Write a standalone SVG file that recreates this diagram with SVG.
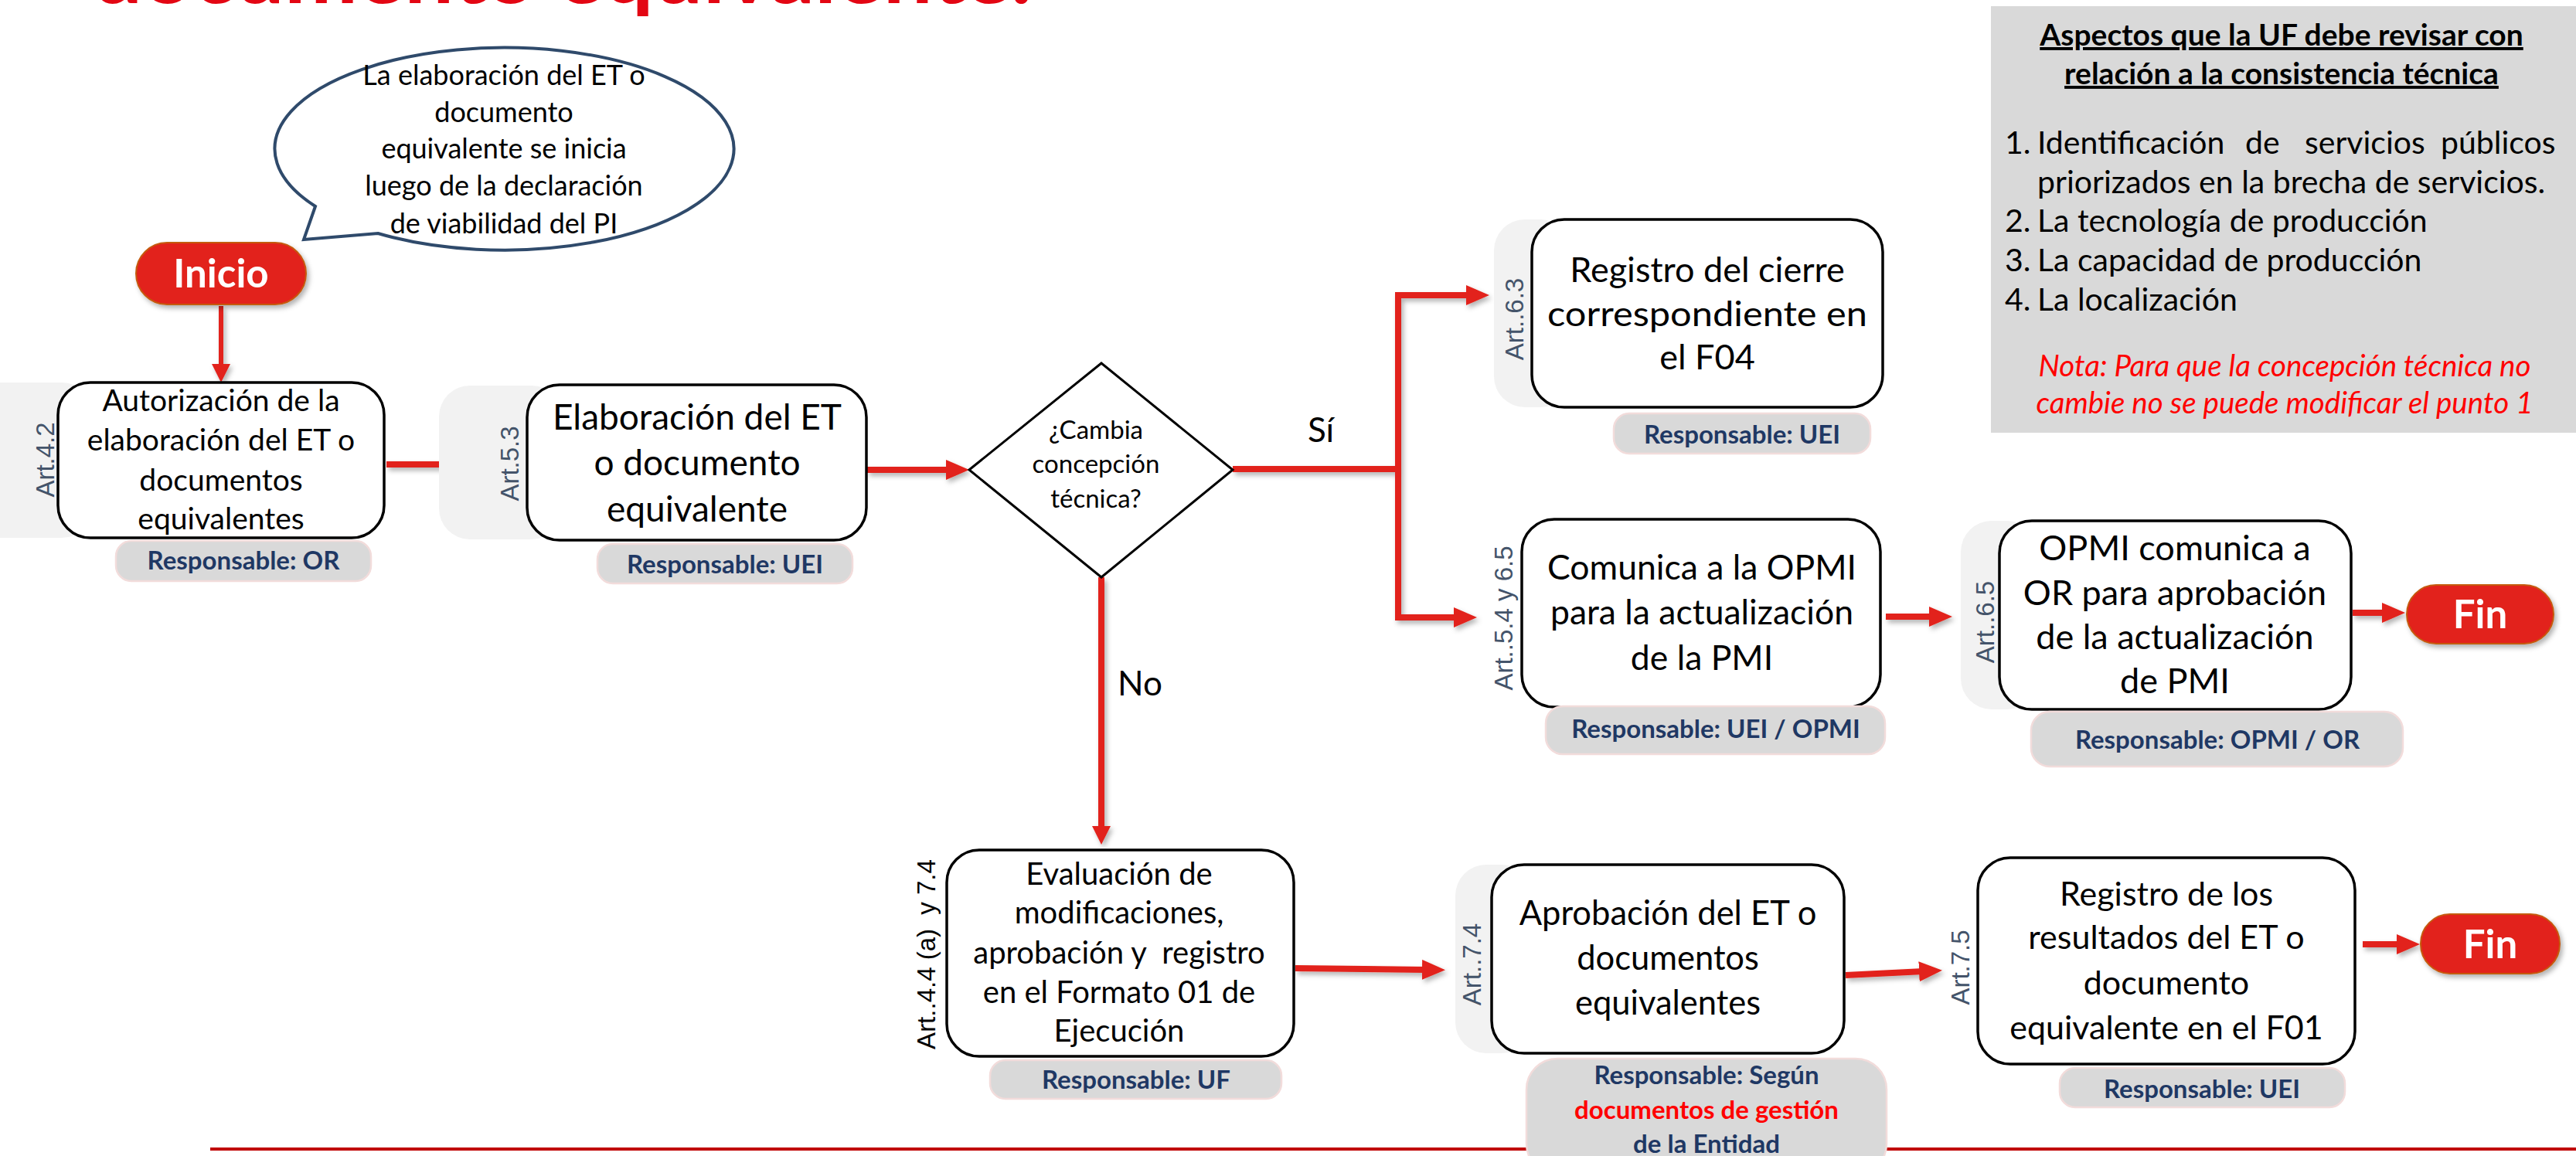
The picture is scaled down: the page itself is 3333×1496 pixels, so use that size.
<svg xmlns="http://www.w3.org/2000/svg" width="3333" height="1496" viewBox="0 0 3333 1496">
<style>
.t{font-family:Lato,"Liberation Sans",sans-serif;fill:#000}
.box{fill:#fff;stroke:#000;stroke-width:3.5}
.tab{fill:#F2F2F2}
.art{font-family:"Liberation Sans",Arial,sans-serif;font-size:33px;fill:#44546A}
.resp{fill:#D9D9D9;stroke:#F2DCDB;stroke-width:2.5}
.rt{font-family:Lato,"Liberation Sans",sans-serif;font-weight:bold;font-size:33px;fill:#1F3864;text-anchor:middle}
.pill{fill:#E2231A;stroke:#C55A11;stroke-width:2}
.pt{font-family:Lato,"Liberation Sans",sans-serif;font-weight:bold;font-size:51px;fill:#fff;text-anchor:middle}
.c{fill:none;stroke:#E2231A;stroke-width:8}
.cs{fill:none;stroke:#E2231A;stroke-width:6}
.mid{text-anchor:middle}
</style>
<defs>
<marker id="ah" markerUnits="userSpaceOnUse" markerWidth="30" markerHeight="26" refX="6" refY="13" orient="auto"><path d="M0,0 L30,13 L0,26 Z" fill="#E2231A"/></marker>
<marker id="ahs" markerUnits="userSpaceOnUse" markerWidth="24" markerHeight="24" refX="4" refY="12" orient="auto"><path d="M0,0 L24,12 L0,24 Z" fill="#E2231A"/></marker>
<filter id="sh" x="-20%" y="-20%" width="140%" height="140%"><feDropShadow dx="3" dy="4" stdDeviation="3" flood-color="#000" flood-opacity="0.3"/></filter>
</defs>
<rect width="3333" height="1496" fill="#fff"/>

<text id="title" x="120" y="4" font-family="Lato,'Liberation Sans',sans-serif" font-weight="bold" font-size="104" fill="#E30613" textLength="1215" lengthAdjust="spacingAndGlyphs">documento equivalente.</text>

<line x1="272" y1="1487" x2="3333" y2="1487" stroke="#C00000" stroke-width="4"/>

<g id="connectors" filter="url(#sh)">
<path class="cs" d="M286,396 V475" marker-end="url(#ahs)"/>
<path class="c" d="M500,601 H605" marker-end="url(#ah)"/>
<path class="c" d="M1122,608 H1230" marker-end="url(#ah)"/>
<path class="c" d="M1595,607 H1809"/>
<path class="c" d="M1809,799 V382 H1903" marker-end="url(#ah)"/>
<path class="c" d="M1809,607 V799 H1887" marker-end="url(#ah)"/>
<path class="c" d="M1425,747 V1073" marker-end="url(#ahs)"/>
<path class="c" d="M2440,798 H2502" marker-end="url(#ah)"/>
<path class="c" d="M3044,793 H3088" marker-end="url(#ah)"/>
<path class="c" d="M1676,1253 L1846,1255" marker-end="url(#ah)"/>
<path class="c" d="M2388,1262 L2489,1257" marker-end="url(#ah)"/>
<path class="c" d="M3057,1222 H3107" marker-end="url(#ah)"/>
</g>

<g id="bubble">
<path d="M408,267 L393,310 L489,302 A297,131 0 1 0 408,267 Z" fill="#fff" stroke="#2F4A6B" stroke-width="4"/>
<text class="t mid" font-size="36"><tspan x="652" y="110">La elaboración del ET o</tspan><tspan x="652" y="158">documento</tspan><tspan x="652" y="205">equivalente se inicia</tspan><tspan x="652" y="253">luego de la declaración</tspan><tspan x="652" y="302">de viabilidad del PI</tspan></text>
</g>

<g id="inicio" filter="url(#sh)">
<rect class="pill" x="176" y="314" width="220" height="80" rx="40"/>
<text class="pt" x="286" y="372">Inicio</text>
</g>

<g id="autorizacion">
<rect class="tab" x="-40" y="495" width="160" height="201" rx="40"/>
<text class="art mid" transform="translate(70,595) rotate(-90)">Art.4.2</text>
<rect class="box" x="75" y="495" width="422" height="201" rx="42"/>
<text class="t mid" font-size="39"><tspan x="286" y="532">Autorización de la</tspan><tspan x="286" y="583">elaboración del ET o</tspan><tspan x="286" y="635">documentos</tspan><tspan x="286" y="685">equivalentes</tspan></text>
<rect class="resp" x="150" y="700" width="330" height="52" rx="20"/>
<text class="rt" x="315" y="737">Responsable: OR</text>
</g>

<g id="elaboracion">
<rect class="tab" x="568" y="499" width="160" height="199" rx="40"/>
<text class="art mid" transform="translate(671,600) rotate(-90)">Art.5.3</text>
<rect class="box" x="682" y="498" width="439" height="201" rx="42"/>
<text class="t mid" font-size="46"><tspan x="902" y="556">Elaboración del ET</tspan><tspan x="902" y="615">o documento</tspan><tspan x="902" y="675">equivalente</tspan></text>
<rect class="resp" x="773" y="704" width="330" height="51" rx="20"/>
<text class="rt" x="938" y="742">Responsable: UEI</text>
</g>

<g id="decision">
<polygon points="1254,608 1425,470 1595,608 1425,747" fill="#fff" stroke="#000" stroke-width="3"/>
<text class="t mid" font-size="33"><tspan x="1418" y="568">¿Cambia</tspan><tspan x="1418" y="612">concepción</tspan><tspan x="1418" y="657">técnica?</tspan></text>
<text class="t mid" font-size="44" x="1709" y="572">Sí</text>
<text class="t mid" font-size="44" x="1475" y="900">No</text>
</g>

<g id="registro-cierre">
<rect class="tab" x="1933" y="284" width="100" height="243" rx="40"/>
<text class="art mid" transform="translate(1971,413) rotate(-90)">Art..6.3</text>
<rect class="box" x="1982" y="284" width="454" height="243" rx="42"/>
<text class="t mid" font-size="45"><tspan x="2209" y="365">Registro del cierre</tspan><tspan x="2209" y="422" textLength="414" lengthAdjust="spacingAndGlyphs">correspondiente en</tspan><tspan x="2209" y="478">el F04</tspan></text>
<rect class="resp" x="2088" y="535" width="332" height="52" rx="20"/>
<text class="rt" x="2254" y="574">Responsable: UEI</text>
</g>

<g id="comunica">
<text class="art mid" transform="translate(1957,800) rotate(-90)">Art..5.4 y 6.5</text>
<rect class="box" x="1969" y="672" width="464" height="243" rx="42"/>
<text class="t mid" font-size="44.5"><tspan x="2202" y="750">Comunica a la OPMI</tspan><tspan x="2202" y="808">para la actualización</tspan><tspan x="2202" y="867">de la PMI</tspan></text>
<rect class="resp" x="2000" y="914" width="439" height="62" rx="22"/>
<text class="rt" x="2220" y="955" font-size="34">Responsable: UEI / OPMI</text>
</g>

<g id="opmi-comunica">
<rect class="tab" x="2537" y="674" width="100" height="244" rx="40"/>
<text class="art mid" transform="translate(2580,805) rotate(-90)">Art..6.5</text>
<rect class="box" x="2587" y="674" width="455" height="244" rx="42"/>
<text class="t mid" font-size="45"><tspan x="2814" y="725">OPMI comunica a</tspan><tspan x="2814" y="783">OR para aprobación</tspan><tspan x="2814" y="840">de la actualización</tspan><tspan x="2814" y="897">de PMI</tspan></text>
<rect class="resp" x="2628" y="921" width="481" height="71" rx="24"/>
<text class="rt" x="2869" y="969" font-size="34">Responsable: OPMI / OR</text>
</g>

<g id="fin1" filter="url(#sh)">
<rect class="pill" x="3114" y="757" width="190" height="76" rx="38"/>
<text class="pt" x="3209" y="813">Fin</text>
</g>

<g id="evaluacion">
<text class="art mid" style="fill:#000" transform="translate(1210,1235) rotate(-90)" xml:space="preserve">Art..4.4 (a)  y 7.4</text>
<rect class="box" x="1225" y="1100" width="449" height="267" rx="42"/>
<text class="t mid" font-size="40"><tspan x="1448" y="1145">Evaluación de</tspan><tspan x="1448" y="1195">modificaciones,</tspan><tspan x="1448" y="1247">aprobación y&#160; registro</tspan><tspan x="1448" y="1298">en el Formato 01 de</tspan><tspan x="1448" y="1348">Ejecución</tspan></text>
<rect class="resp" x="1281" y="1372" width="377" height="50" rx="20"/>
<text class="rt" x="1470" y="1409">Responsable: UF</text>
</g>

<g id="aprobacion">
<rect class="tab" x="1883" y="1119" width="100" height="244" rx="40"/>
<text class="art mid" transform="translate(1916,1248) rotate(-90)">Art..7.4</text>
<rect class="box" x="1930" y="1119" width="456" height="244" rx="42"/>
<text class="t mid" font-size="43.5"><tspan x="2158" y="1197">Aprobación del ET o</tspan><tspan x="2158" y="1255">documentos</tspan><tspan x="2158" y="1313">equivalentes</tspan></text>
<rect class="resp" x="1975" y="1370" width="466" height="150" rx="40"/>
<text class="rt" font-size="34"><tspan x="2208" y="1403">Responsable: Según</tspan><tspan x="2208" y="1448" style="fill:#FF0000">documentos de gestión</tspan><tspan x="2208" y="1492">de la Entidad</tspan></text>
</g>

<g id="registro-resultados">
<text class="art mid" transform="translate(2548,1252) rotate(-90)">Art.7.5</text>
<rect class="box" x="2559" y="1110" width="488" height="267" rx="42"/>
<text class="t mid" font-size="43"><tspan x="2803" y="1172">Registro de los</tspan><tspan x="2803" y="1228">resultados del ET o</tspan><tspan x="2803" y="1287">documento</tspan><tspan x="2803" y="1345">equivalente en el F01</tspan></text>
<rect class="resp" x="2665" y="1382" width="369" height="51" rx="20"/>
<text class="rt" x="2849" y="1421">Responsable: UEI</text>
</g>

<g id="fin2" filter="url(#sh)">
<rect class="pill" x="3132" y="1183" width="180" height="77" rx="38"/>
<text class="pt" x="3222" y="1240">Fin</text>
</g>

<g id="aspectos">
<rect x="2576" y="8" width="757" height="552" fill="#D9D9D9"/>
<text class="t mid" font-size="39" font-weight="bold" text-decoration="underline"><tspan x="2952" y="59">Aspectos que la UF debe revisar con</tspan><tspan x="2952" y="109">relación a la consistencia técnica</tspan></text>
<text class="t" font-size="41">
<tspan x="2594" y="199">1.</tspan><tspan x="2636" y="199">Identificación</tspan><tspan x="2905" y="199">de</tspan><tspan x="2982" y="199">servicios</tspan><tspan x="3158" y="199">públicos</tspan>
<tspan x="2636" y="250">priorizados en la brecha de servicios.</tspan>
<tspan x="2594" y="300">2.</tspan><tspan x="2636" y="300">La tecnología de producción</tspan>
<tspan x="2594" y="351">3.</tspan><tspan x="2636" y="351">La capacidad de producción</tspan>
<tspan x="2594" y="402">4.</tspan><tspan x="2636" y="402">La localización</tspan>
</text>
<text class="mid" font-family="Lato,'Liberation Sans',sans-serif" font-style="italic" font-size="38.5" fill="#FF0000"><tspan x="2956" y="487">Nota: Para que la concepción técnica no</tspan><tspan x="2956" y="535">cambie no se puede modificar el punto 1</tspan></text>
</g>
</svg>
